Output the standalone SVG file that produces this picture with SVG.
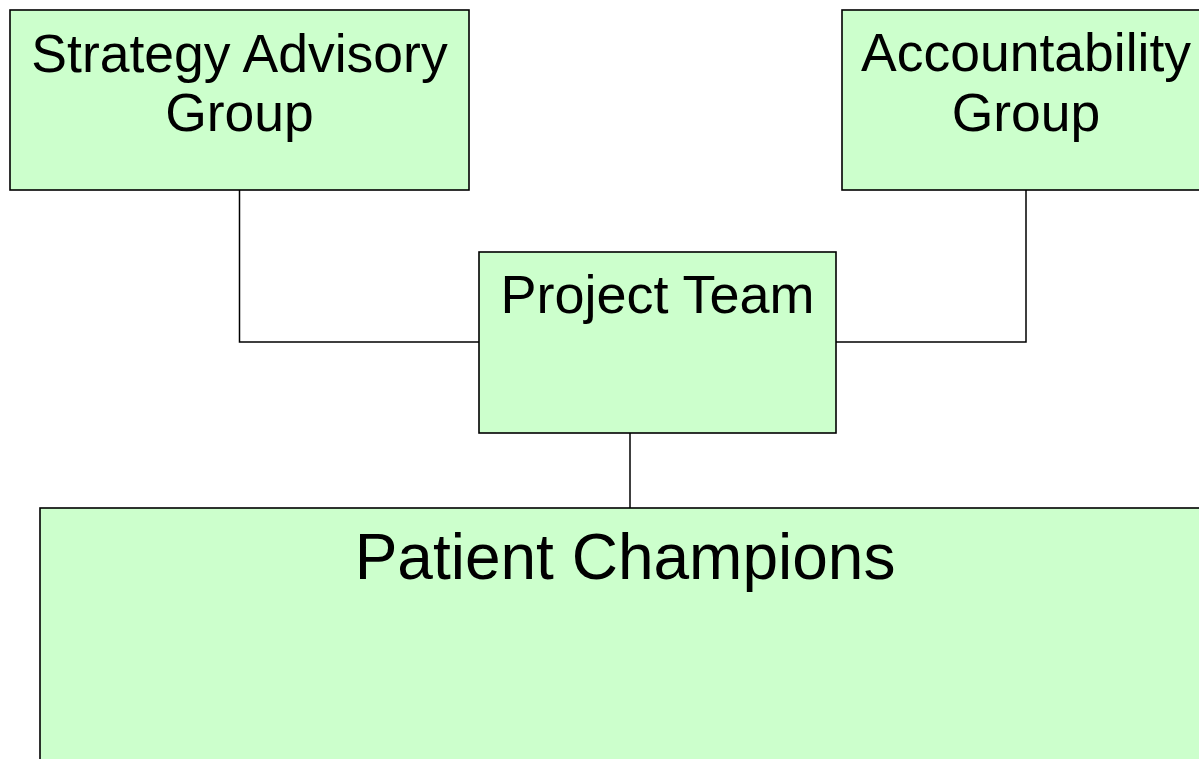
<svg xmlns="http://www.w3.org/2000/svg" width="1199" height="759" viewBox="0 0 1199 759">
  <style>
    .box { fill: #ccffcc; stroke: #000; stroke-width: 1.6; }
    .lbl { font-family: "Liberation Sans", Arial, sans-serif; fill: #000; text-anchor: middle; }
    .wire { fill: none; stroke: #000; stroke-width: 1.5; }
  </style>
  <rect width="1199" height="759" fill="#fff"/>

  <!-- connectors -->
  <g id="connectors">
    <polyline class="wire" points="239.5,190 239.5,342 479,342"/>
    <polyline class="wire" points="1026,190 1026,342 836,342"/>
    <line class="wire" x1="630" y1="433" x2="630" y2="508"/>
  </g>

  <g id="strategy-advisory-group">
    <rect class="box" x="10" y="10" width="459" height="180"/>
    <text class="lbl" x="239.5" y="72" font-size="53.5">Strategy Advisory</text>
    <text class="lbl" x="239.5" y="131" font-size="53.5">Group</text>
  </g>

  <g id="accountability-group">
    <rect class="box" x="842" y="10" width="368" height="180"/>
    <text class="lbl" x="1026" y="71" font-size="53.5">Accountability</text>
    <text class="lbl" x="1026" y="131" font-size="53.5">Group</text>
  </g>

  <g id="project-team">
    <rect class="box" x="479" y="252" width="357" height="181"/>
    <text class="lbl" x="657.5" y="313" font-size="54">Project Team</text>
  </g>

  <g id="patient-champions">
    <rect class="box" x="40" y="508" width="1170" height="270"/>
    <text class="lbl" x="625" y="579" font-size="64">Patient Champions</text>
  </g>
</svg>
